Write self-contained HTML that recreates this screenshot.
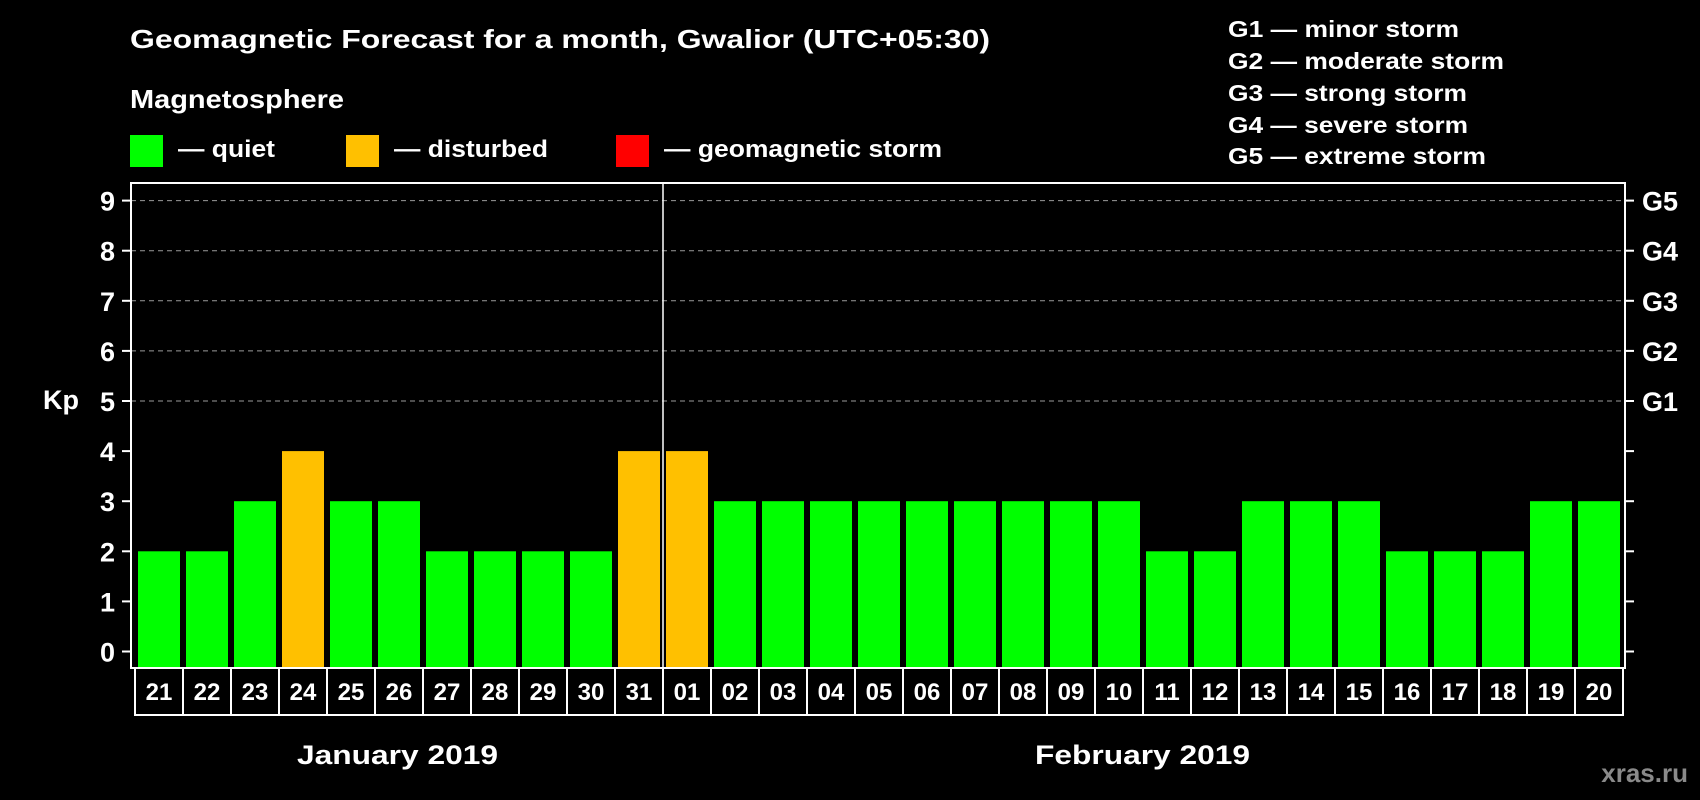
<!DOCTYPE html>
<html><head><meta charset="utf-8"><style>
html,body{margin:0;padding:0;background:#000;width:1700px;height:800px;overflow:hidden}
text{font-family:"Liberation Sans",Arial,sans-serif;font-weight:bold;fill:#fff}
</style></head><body>
<svg id="chart" width="1700" height="800" viewBox="0 0 1700 800">
<rect width="1700" height="800" fill="#000"/>
<text x="130" y="48" font-size="26" textLength="860" lengthAdjust="spacingAndGlyphs">Geomagnetic Forecast for a month, Gwalior (UTC+05:30)</text>
<text x="130" y="108" font-size="26" textLength="214" lengthAdjust="spacingAndGlyphs">Magnetosphere</text>
<rect x="130" y="135" width="33" height="32" fill="#00ff00"/>
<text x="178" y="157" font-size="24" textLength="97" lengthAdjust="spacingAndGlyphs">— quiet</text>
<rect x="346" y="135" width="33" height="32" fill="#ffc000"/>
<text x="394" y="157" font-size="24" textLength="154" lengthAdjust="spacingAndGlyphs">— disturbed</text>
<rect x="616" y="135" width="33" height="32" fill="#ff0000"/>
<text x="664" y="157" font-size="24" textLength="278" lengthAdjust="spacingAndGlyphs">— geomagnetic storm</text>
<g font-size="23">
<text x="1228" y="37" textLength="231" lengthAdjust="spacingAndGlyphs">G1 — minor storm</text>
<text x="1228" y="69" textLength="276" lengthAdjust="spacingAndGlyphs">G2 — moderate storm</text>
<text x="1228" y="101" textLength="239" lengthAdjust="spacingAndGlyphs">G3 — strong storm</text>
<text x="1228" y="133" textLength="240" lengthAdjust="spacingAndGlyphs">G4 — severe storm</text>
<text x="1228" y="164" textLength="258" lengthAdjust="spacingAndGlyphs">G5 — extreme storm</text>
</g>
<text x="43" y="409" font-size="27">Kp</text>
<g id="grid"></g><g id="bars"></g><g id="axes"></g>
<text x="297" y="764" font-size="27" textLength="201" lengthAdjust="spacingAndGlyphs">January 2019</text>
<text x="1035" y="764" font-size="27" textLength="215" lengthAdjust="spacingAndGlyphs">February 2019</text>
<text x="1688" y="782" font-size="26" text-anchor="end" style="fill:#8a8a8a">xras.ru</text>
</svg>
<script>
const days = ["21","22","23","24","25","26","27","28","29","30","31","01","02","03","04","05","06","07","08","09","10","11","12","13","14","15","16","17","18","19","20"];
const kpValues = [2,2,3,4,3,3,2,2,2,2,4,4,3,3,3,3,3,3,3,3,3,2,2,3,3,3,2,2,2,3,3];
const yTicks = [0,1,2,3,4,5,6,7,8,9];
const gLabels = ["G1","G2","G3","G4","G5"];
const gLevels = [5,6,7,8,9];
const NS="http://www.w3.org/2000/svg";
const L=131,R=1625,T=183,B=668,DB=715;
const y=v=>651.5-v*50.1;
const x0=i=>138+i*48;
function mk(tag,attrs,parent){const e=document.createElementNS(NS,tag);for(const k in attrs)e.setAttribute(k,attrs[k]);parent.appendChild(e);return e;}
const grid=document.getElementById('grid'),bars=document.getElementById('bars'),axes=document.getElementById('axes');
gLevels.forEach((v)=>{const ln=mk('line',{x1:L,x2:R,y1:y(v),y2:y(v),stroke:'#9a9a9a','stroke-width':1,'stroke-dasharray':'5,4'},grid);

});
kpValues.forEach((v,i)=>{const c=v>=5?'#ff0000':(v>=4?'#ffc000':'#00ff00');
const r=mk('rect',{x:x0(i),y:y(v),width:42,height:B-y(v),fill:c},bars);

});
const frame=mk('rect',{x:L,y:T,width:R-L,height:B-T,fill:'none',stroke:'#fff','stroke-width':2},axes);


const sep=mk('line',{x1:663,x2:663,y1:T,y2:B,stroke:'#fff','stroke-width':1.5},axes);


yTicks.forEach(v=>{mk('line',{x1:122,x2:L,y1:y(v),y2:y(v),stroke:'#fff','stroke-width':2},axes);
mk('line',{x1:R,x2:1634,y1:y(v),y2:y(v),stroke:'#fff','stroke-width':2},axes);
const t=mk('text',{x:115,y:y(v)+10,'font-size':27,'text-anchor':'end'},axes);t.textContent=v;

});
gLabels.forEach((g,i)=>{const t=mk('text',{x:1642,y:y(gLevels[i])+10,'font-size':27},axes);t.textContent=g;

});
const dbox=mk('rect',{x:135,y:B,width:1488,height:DB-B,fill:'none',stroke:'#fff','stroke-width':2},axes);


days.forEach((d,i)=>{if(i>0)mk('line',{x1:135+i*48,x2:135+i*48,y1:B,y2:DB,stroke:'#fff','stroke-width':2},axes);
const t=mk('text',{x:x0(i)+21,y:700,'font-size':24,'text-anchor':'middle'},axes);t.textContent=d;

});
</script>
</body></html>
